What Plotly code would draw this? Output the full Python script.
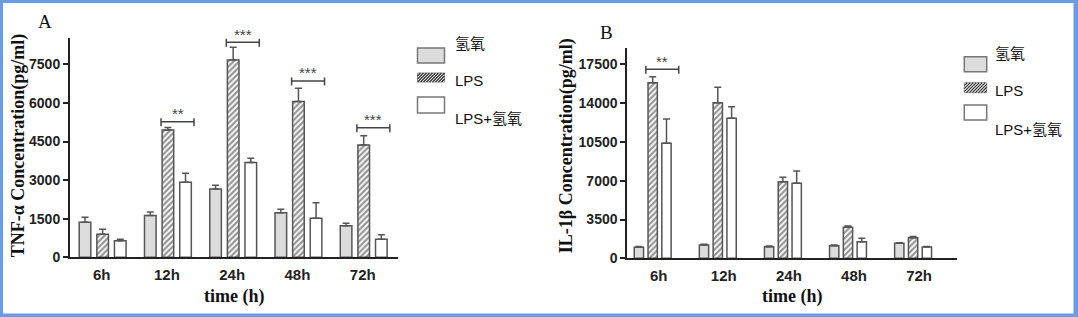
import plotly.graph_objects as go

W, H = 1078, 317

# ---------------- data ----------------
categories = ["6h", "12h", "24h", "48h", "72h"]
series_names = ["氢氧", "LPS", "LPS+氢氧"]

tnf_h2 = [1360, 1620, 2650, 1730, 1230]
tnf_h2_err = [195, 140, 150, 135, 90]
tnf_lps = [895, 4950, 7670, 6050, 4365]
tnf_lps_err = [195, 90, 495, 520, 360]
tnf_lps_h2 = [645, 2915, 3680, 1515, 700]
tnf_lps_h2_err = [55, 350, 170, 605, 180]

il_h2 = [1000, 1200, 1050, 1130, 1350]
il_h2_err = [60, 60, 50, 60, 60]
il_lps = [15840, 14040, 6910, 2800, 1860]
il_lps_err = [540, 1390, 400, 110, 110]
il_lps_h2 = [10370, 12630, 6770, 1500, 1010]
il_lps_h2_err = [2190, 1045, 1110, 300, 60]

yticks_a = [0, 1500, 3000, 4500, 6000, 7500]
yticks_b = [0, 3500, 7000, 10500, 14000, 17500]

sig_a_cats = ["12h", "24h", "48h", "72h"]
sig_a_levels = [5270, 8356, 6852, 5037]
sig_a_labels = ["**", "***", "***", "***"]
sig_b_cats = ["6h"]
sig_b_levels = [17050]
sig_b_labels = ["**"]

# ---------------- styles ----------------
SERIF = "Liberation Serif, Times New Roman, serif"
SANS = "Liberation Sans, Arial, Noto Sans CJK SC, sans-serif"
EDGE = "#555555"
AX = "#222222"
fills = ["#dcdcdc", "white", "white"]
patterns = [None, dict(shape="/", fgcolor="#2e2e2e", bgcolor="white", size=4, solidity=0.55), None]


def px2x(px):
    return px / W


def px2y(py):
    return 1 - py / H


panels = [
    dict(xa="x", ya="y", xdom=(70, 398.3), ydom=(257.3, 38.3), yr=8511, xr=(-0.5, 4.53),
         yt=yticks_a, slot=0.27, bw=0.178, shift=-1,
         data=[(tnf_h2, tnf_h2_err), (tnf_lps, tnf_lps_err), (tnf_lps_h2, tnf_lps_h2_err)],
         sig=(sig_a_cats, sig_a_levels, sig_a_labels)),
    dict(xa="x2", ya="y2", xdom=(627.3, 956.7), ydom=(258.3, 48.3), yr=18943, xr=(-0.39, 4.67),
         yt=yticks_b, slot=0.212, bw=0.143, shift=6,
         data=[(il_h2, il_h2_err), (il_lps, il_lps_err), (il_lps_h2, il_lps_h2_err)],
         sig=(sig_b_cats, sig_b_levels, sig_b_labels)),
]

fig = go.Figure()
shapes = []
annotations = []

for p in panels:
    for k, (vals, errs) in enumerate(p["data"]):
        marker = dict(color=fills[k], line=dict(color=EDGE, width=1.5))
        if patterns[k]:
            marker["pattern"] = patterns[k]
        fig.add_trace(go.Bar(
            x=categories, y=vals, name=series_names[k], xaxis=p["xa"], yaxis=p["ya"],
            width=p["bw"], offset=(k - 1) * p["slot"] - p["bw"] / 2,
            marker=marker, showlegend=False,
            error_y=dict(type="data", array=errs, arrayminus=[0] * len(errs), symmetric=False,
                         color=EDGE, thickness=1.5, width=3.5),
        ))
    # significance brackets
    upp = p["yr"] / (p["ydom"][0] - p["ydom"][1])  # data units per pixel
    cats, levels, labels = p["sig"]
    for c, lv, lab in zip(cats, levels, labels):
        i = categories.index(c)
        x0, x1 = i - 0.105, i + 0.40
        ln = dict(color="#444", width=1.5)
        shapes.append(dict(type="line", xref=p["xa"], yref=p["ya"], x0=x0, x1=x1, y0=lv, y1=lv, line=ln))
        for xx in (x0, x1):
            shapes.append(dict(type="line", xref=p["xa"], yref=p["ya"], x0=xx, x1=xx,
                               y0=lv - 4.5 * upp, y1=lv + 3.5 * upp, line=ln))
        annotations.append(dict(xref=p["xa"], yref=p["ya"], x=(x0 + x1) / 2, y=lv, text=lab,
                                showarrow=False, yshift=8, font=dict(family=SANS, size=15, color="#444")))

axis_common = dict(showline=True, linewidth=2, linecolor=AX, showgrid=False, zeroline=False,
                   automargin=False)
layout = dict(
    width=W, height=H, margin=dict(l=0, r=0, t=0, b=0),
    paper_bgcolor="white", plot_bgcolor="white", barmode="overlay", showlegend=False,
)
for n, p in enumerate(panels):
    sx = "" if n == 0 else str(n + 1)
    layout["xaxis" + sx] = dict(
        axis_common, domain=[px2x(p["xdom"][0]), px2x(p["xdom"][1])], range=list(p["xr"]),
        type="category", ticks="", anchor=p["ya"], ticklabelstandoff=3, ticklabelshift=p["shift"],
        tickfont=dict(family=SANS, size=15, color=AX, weight="bold"),
    )
    layout["yaxis" + sx] = dict(
        axis_common, domain=[px2y(p["ydom"][0]), px2y(p["ydom"][1])], range=[0, p["yr"]],
        tickvals=p["yt"], ticktext=[str(v) for v in p["yt"]],
        ticks="outside", ticklen=5, tickwidth=2, tickcolor=AX, anchor=p["xa"],
        tickfont=dict(family=SANS, size=14, color=AX, weight="bold"),
    )
fig.update_layout(**layout)

# axis titles and panel letters
texts = [
    ("A", 45, 21, 0, dict(family=SERIF, size=19, color="#111")),
    ("B", 606, 32, 0, dict(family=SERIF, size=19, color="#111")),
    ("TNF-α Concentration(pg/ml)", 18.3, 145, -90, dict(family=SERIF, size=18, color="#111", weight="bold")),
    ("IL-1β Concentration(pg/ml)", 566.7, 145.5, -90, dict(family=SERIF, size=18, color="#111", weight="bold")),
    ("time (h)", 233.5, 296, 0, dict(family=SERIF, size=18, color="#111", weight="bold")),
    ("time (h)", 792, 296, 0, dict(family=SERIF, size=18, color="#111", weight="bold")),
]
for t, x, y, ang, f in texts:
    annotations.append(dict(xref="paper", yref="paper", x=px2x(x), y=px2y(y), text=t, textangle=ang,
                            showarrow=False, xanchor="center", yanchor="middle", font=f))

# manual legends (box geometry in px)
legends = [
    dict(bx=(417.5, 444.5), boxes=[(48, 63), (73, 82), (97, 113)], tx=453, ty=[43, 80.5, 118.5]),
    dict(bx=(964.3, 986.7), boxes=[(56.7, 71.7), (82.7, 92.7), (105, 120)], tx=992.7, ty=[53.3, 90.8, 129]),
]
for lg in legends:
    bx0, bx1 = lg["bx"]
    for k, ((by0, by1), ty) in enumerate(zip(lg["boxes"], lg["ty"])):
        shapes.append(dict(type="rect", xref="paper", yref="paper", x0=px2x(bx0), x1=px2x(bx1),
                           y0=px2y(by1), y1=px2y(by0), fillcolor=fills[k],
                           line=dict(color="#777" if k != 1 else "#888", width=1.5 if k != 1 else 0.8)))
        if patterns[k]:
            h = by1 - by0
            segs = []
            c = bx0 - h
            while c < bx1:
                t0, t1 = max(0, bx0 - c), min(h, bx1 - c)
                if t1 > t0:
                    segs.append("M%.5f,%.5f L%.5f,%.5f" % (px2x(c + t0), px2y(by1 - t0),
                                                           px2x(c + t1), px2y(by1 - t1)))
                c += 3
            shapes.append(dict(type="path", xref="paper", yref="paper", path=" ".join(segs),
                               line=dict(color="#2e2e2e", width=1.2)))
        annotations.append(dict(xref="paper", yref="paper", x=px2x(lg["tx"]), y=px2y(ty),
                                text=series_names[k], showarrow=False, xanchor="left", yanchor="middle",
                                font=dict(family="Liberation Sans, Noto Sans CJK SC, sans-serif",
                                          size=15, color="#111")))

# blue frame
BLUE = "#6a9be6"
for (x0, x1, y0, y1) in [(0, 3, 0, H), (1073.5, W, 0, H), (0, W, 0, 3), (0, W, 313.5, H)]:
    shapes.append(dict(type="rect", xref="paper", yref="paper", x0=px2x(x0), x1=px2x(x1),
                       y0=px2y(y1), y1=px2y(y0), fillcolor=BLUE, line=dict(width=0), layer="above"))

fig.update_layout(shapes=shapes, annotations=annotations)
fig.write_html("out.html")
